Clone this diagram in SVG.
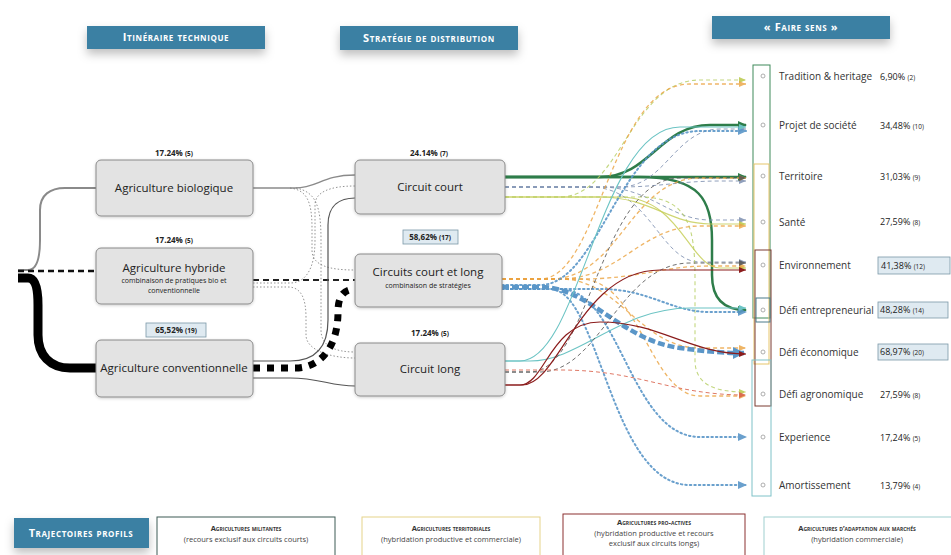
<svg xmlns="http://www.w3.org/2000/svg" width="951" height="555" viewBox="0 0 951 555">
<style>
.hdr{fill:#3b80a3}
.hdrt{fill:#fff;font-family:"Open Sans",sans-serif;font-size:11px;font-weight:bold;font-variant:small-caps;letter-spacing:0.6px;text-anchor:middle}
.node{fill:#e3e3e3;stroke:#8a8a8a;stroke-width:1}
.nt{font-family:"Open Sans",sans-serif;font-size:11.5px;fill:#222;text-anchor:middle}
.ns{font-family:"Open Sans",sans-serif;font-size:7px;fill:#222;text-anchor:middle}
.pct{font-family:"Open Sans",sans-serif;font-size:8px;font-weight:bold;fill:#222;text-anchor:middle}
.pbox{fill:#dfeaf1;stroke:#7b98a8;stroke-width:0.8}
.lab{font-family:"Open Sans",sans-serif;font-size:10px;fill:#333}
.val{font-family:"Open Sans",sans-serif;font-size:9px;fill:#222}
.sm{font-size:6.5px}
.ring{fill:none;stroke:#999;stroke-width:0.8}
.lgt{font-family:"Open Sans",sans-serif;font-size:7.5px;font-weight:bold;font-variant:small-caps;fill:#333;text-anchor:middle}
.lgs{font-family:"Open Sans",sans-serif;font-size:7.5px;fill:#444;text-anchor:middle}
.f{fill:none}
.green{stroke:#2e7d4a;stroke-width:2.5}
.gdash{stroke:#7d8fb0;stroke-width:1;stroke-dasharray:4 3;opacity:.85}
.yg{stroke:#c7cf5a;stroke-width:1.2;opacity:.85}
.ygd{stroke:#b9d06a;stroke-width:1.1;stroke-dasharray:4 3;opacity:.85}
.orng{stroke:#eba340;stroke-width:1.3;stroke-dasharray:4 3;opacity:.8}
.blueT{stroke:#5a96c8;stroke-width:4.5;stroke-dasharray:7 3}
.blueD{stroke:#5a96c8;stroke-width:2;stroke-dasharray:1.5 3;stroke-linecap:round;opacity:.9}
.teal{stroke:#6cc4c4;stroke-width:1.1}
.dkd{stroke:#555;stroke-width:1;stroke-dasharray:4 3;opacity:.85}
.dred{stroke:#8b1c1c;stroke-width:1.2}
.rdd{stroke:#d9604a;stroke-width:1;stroke-dasharray:4 3;opacity:.85}
.dot{stroke:#777;stroke-width:0.8;stroke-dasharray:1.5 2}
</style>
<defs>
<filter id="sh" x="-20%" y="-50%" width="140%" height="250%"><feDropShadow dx="0" dy="5" stdDeviation="5" flood-color="#000" flood-opacity="0.25"/></filter>
<filter id="ns" x="-10%" y="-10%" width="120%" height="130%"><feDropShadow dx="0" dy="1" stdDeviation="1.5" flood-color="#000" flood-opacity="0.2"/></filter>
<marker id="m-green" markerUnits="userSpaceOnUse" markerWidth="10" markerHeight="10" refX="8" refY="5" orient="auto"><path d="M0,1 L9,5 L0,9 z" fill="#2e7d4a"/></marker>
<marker id="m-gd" markerUnits="userSpaceOnUse" markerWidth="8" markerHeight="8" refX="7" refY="4" orient="auto"><path d="M0,1 L7,4 L0,7 z" fill="#7d8fb0"/></marker>
<marker id="m-yg" markerUnits="userSpaceOnUse" markerWidth="8" markerHeight="8" refX="7" refY="4" orient="auto"><path d="M0,1 L7,4 L0,7 z" fill="#b9c84a"/></marker>
<marker id="m-or" markerUnits="userSpaceOnUse" markerWidth="8" markerHeight="8" refX="7" refY="4" orient="auto"><path d="M0,1 L7,4 L0,7 z" fill="#eba340"/></marker>
<marker id="m-bl" markerUnits="userSpaceOnUse" markerWidth="10" markerHeight="10" refX="8" refY="5" orient="auto"><path d="M0,1 L9,5 L0,9 z" fill="#5a96c8"/></marker>
<marker id="m-blL" markerUnits="userSpaceOnUse" markerWidth="14" markerHeight="14" refX="11" refY="7" orient="auto"><path d="M0,1 L12,7 L0,13 z" fill="#5a96c8"/></marker>
<marker id="m-te" markerUnits="userSpaceOnUse" markerWidth="8" markerHeight="8" refX="7" refY="4" orient="auto"><path d="M0,1 L7,4 L0,7 z" fill="#6cc4c4"/></marker>
<marker id="m-dk" markerUnits="userSpaceOnUse" markerWidth="8" markerHeight="8" refX="7" refY="4" orient="auto"><path d="M0,1 L7,4 L0,7 z" fill="#555"/></marker>
<marker id="m-dr" markerUnits="userSpaceOnUse" markerWidth="8" markerHeight="8" refX="7" refY="4" orient="auto"><path d="M0,1 L7,4 L0,7 z" fill="#8b1c1c"/></marker>
<marker id="m-rd" markerUnits="userSpaceOnUse" markerWidth="8" markerHeight="8" refX="7" refY="4" orient="auto"><path d="M0,1 L7,4 L0,7 z" fill="#d9604a"/></marker>
</defs>
<rect width="951" height="555" fill="#fff"/>

<g id="headers">
<rect class="hdr" x="87" y="26" width="178" height="23" filter="url(#sh)"/>
<text class="hdrt" x="176" y="41">Itinéraire technique</text>
<rect class="hdr" x="340" y="26" width="178" height="24" filter="url(#sh)"/>
<text class="hdrt" x="429" y="42">Stratégie de distribution</text>
<rect class="hdr" x="712" y="16" width="178" height="23" filter="url(#sh)"/>
<text class="hdrt" x="801" y="31">« Faire sens »</text>
</g>

<g id="connectors">
<path class="f" d="M18 270 H28 C38 270,40 255,40 240 V210 C40 195,50 188,65 188 H96" stroke="#8a8a8a" stroke-width="2"/>
<path class="f" d="M18 271 H96" stroke="#111" stroke-width="2.5" stroke-dasharray="6 4"/>
<path class="f" d="M18 278 H28 C36 278,38 290,38 305 V335 C38 355,50 368,70 368 H96" stroke="#000" stroke-width="9"/>
<path class="f" d="M253 188 H295 C318 188,322 175,355 175" stroke="#8a8a8a" stroke-width="1.5"/>
<path class="f dot" d="M290 188 C306 190,312 200,312 228 V250 C312 266,330 270,355 270"/>
<path class="f dot" d="M296 188 C316 192,321 206,321 240 V330 C321 346,335 352,355 352"/>
<path class="f dot" d="M253 283 H290 C305 283,315 270,315 240 V205 C315 192,330 186,355 186"/>
<path class="f dot" d="M253 287 H288 C302 287,306 300,306 318 V335 C306 350,330 358,355 358"/>
<path class="f" d="M253 280 H355" stroke="#222" stroke-width="1.8" stroke-dasharray="6 4"/>
<path class="f" d="M253 361 H290 C318 361,328 345,328 320 V225 C328 205,340 198,355 198" stroke="#555" stroke-width="1.2"/>
<path class="f" d="M253 378 H290 C320 378,330 386,355 386" stroke="#555" stroke-width="1.2"/>
<path class="f" d="M253 368 H295 C322 368,338 345,338 312 C338 294,345 289,357 289" stroke="#000" stroke-width="7" stroke-dasharray="7 7"/>
<path class="f green" d="M505 177 H600 C650 177,660 125,710 125 H746" marker-end="url(#m-green)"/>
<path class="f green" d="M505 177 H746" marker-end="url(#m-green)"/>
<path class="f green" d="M505 177 H640 C700 177,712 200,712 240 V275 C712 300,725 310,746 310" marker-end="url(#m-green)"/>
<path class="f gdash" d="M505 187 H620 C665 187,675 129,720 129 H746" marker-end="url(#m-gd)"/>
<path class="f gdash" d="M505 187 H620 C660 187,680 181,720 181 H746" marker-end="url(#m-gd)"/>
<path class="f gdash" d="M505 187 H600 C650 187,670 220,710 220 H746" marker-end="url(#m-gd)"/>
<path class="f gdash" d="M505 187 H590 C650 187,660 262,700 262 H746" marker-end="url(#m-gd)"/>
<path class="f ygd" d="M505 197 H560 C620 197,630 80,700 80 H746" marker-end="url(#m-yg)"/>
<path class="f yg" d="M505 197 H600 C650 197,670 224,710 224 H746" marker-end="url(#m-yg)"/>
<path class="f yg" d="M505 197 H620 C680 197,690 268,720 268 H746" marker-end="url(#m-yg)"/>
<path class="f ygd" d="M505 197 H640 C690 197,695 230,695 280 V360 C695 385,715 392,746 392" marker-end="url(#m-yg)"/>
<path class="f orng" d="M502 279 H540 C600 279,610 84,690 84 H746" marker-end="url(#m-or)"/>
<path class="f orng" d="M502 279 H550 C620 279,630 178,700 178 H746" marker-end="url(#m-or)"/>
<path class="f orng" d="M502 279 H560 C620 279,640 226,700 226 H746" marker-end="url(#m-or)"/>
<path class="f orng" d="M502 279 H580 C640 279,660 266,710 266 H746" marker-end="url(#m-or)"/>
<path class="f orng" d="M502 279 H560 C620 279,640 348,700 348 H746" marker-end="url(#m-or)"/>
<path class="f orng" d="M502 279 H580 C640 279,650 396,700 396 H746" marker-end="url(#m-or)"/>
<path class="f blueD" d="M502 285 H540 C600 285,620 131,700 131 H746" marker-end="url(#m-bl)"/>
<path class="f blueD" d="M502 289 H600 C650 289,670 312,710 312 H746" marker-end="url(#m-bl)"/>
<path class="f blueD" d="M502 289 H560 C620 289,630 437,700 437 H746" marker-end="url(#m-bl)"/>
<path class="f blueD" d="M502 289 H550 C600 289,610 485,690 485 H746" marker-end="url(#m-bl)"/>
<path class="f blueT" d="M502 287 H540 C590 287,620 340,680 348 C710 352,725 353,744 353" marker-end="url(#m-blL)"/>
<path class="f teal" d="M505 361 H520 C580 361,600 127,680 127 H746" marker-end="url(#m-te)"/>
<path class="f teal" d="M505 361 H530 C580 361,620 308,690 308 H746" marker-end="url(#m-te)"/>
<path class="f dkd" d="M505 372 H530 C590 372,600 178,680 178 H746" marker-end="url(#m-dk)"/>
<path class="f dkd" d="M505 372 H540 C600 372,620 263,690 263 H746" marker-end="url(#m-dk)"/>
<path class="f dred" d="M505 385 H520 C545 385,550 322,600 322 C660 322,690 354,746 354" marker-end="url(#m-dr)"/>
<path class="f dred" d="M505 385 H522 C560 385,580 270,660 270 H746" marker-end="url(#m-dr)"/>
<path class="f rdd" d="M505 370 H560 C640 370,670 395,746 395" marker-end="url(#m-rd)"/>
</g>

<g id="n-bio">
<text class="pct" x="174" y="156">17.24% <tspan class="sm">(5)</tspan></text>
<rect class="node" x="96" y="160" width="157" height="56" rx="5" filter="url(#ns)"/>
<text class="nt" x="174" y="192">Agriculture biologique</text>
</g>
<g id="n-hyb">
<text class="pct" x="174" y="243">17.24% <tspan class="sm">(5)</tspan></text>
<rect class="node" x="96" y="248" width="157" height="56" rx="5" filter="url(#ns)"/>
<text class="nt" x="174" y="272">Agriculture hybride</text>
<text class="ns" x="174" y="283">combinaison de pratiques bio et</text>
<text class="ns" x="174" y="293">conventionnelle</text>
</g>
<g id="n-conv">
<rect class="pbox" x="146" y="323" width="60" height="14"/>
<text class="pct" x="176" y="333">65,52% <tspan class="sm">(19)</tspan></text>
<rect class="node" x="96" y="340" width="157" height="57" rx="5" filter="url(#ns)"/>
<text class="nt" x="174" y="372">Agriculture conventionnelle</text>
</g>
<g id="n-cc">
<text class="pct" x="429" y="156">24.14% <tspan class="sm">(7)</tspan></text>
<rect class="node" x="355" y="160" width="150" height="54" rx="5" filter="url(#ns)"/>
<text class="nt" x="430" y="191">Circuit court</text>
</g>
<g id="n-ccl">
<rect class="pbox" x="403" y="230" width="55" height="14"/>
<text class="pct" x="430" y="240">58,62% <tspan class="sm">(17)</tspan></text>
<rect class="node" x="355" y="254" width="147" height="53" rx="5" filter="url(#ns)"/>
<text class="nt" x="428" y="276">Circuits court et long</text>
<text class="ns" x="428" y="288">combinaison de stratégies</text>
</g>
<g id="n-cl">
<text class="pct" x="430" y="336">17.24% <tspan class="sm">(5)</tspan></text>
<rect class="node" x="355" y="343" width="150" height="53" rx="5" filter="url(#ns)"/>
<text class="nt" x="430" y="373">Circuit long</text>
</g>

<g id="bar">
<rect x="753" y="65" width="17" height="253" fill="none" stroke="#3f8a5a" stroke-width="1"/>
<rect x="754" y="164" width="15" height="200" fill="none" stroke="#e6c56a" stroke-width="1"/>
<rect x="755" y="250" width="16" height="156" fill="none" stroke="#7a3a30" stroke-width="1"/>
<rect x="756" y="298" width="14" height="24" fill="none" stroke="#4a7a8a" stroke-width="1"/>
<rect x="752" y="360" width="19" height="136" fill="none" stroke="#7fc2c8" stroke-width="1"/>
</g>

<g id="t-trad"><circle class="ring" cx="763" cy="76" r="2"/><text class="lab" x="779" y="80">Tradition &amp; heritage</text><text class="val" x="880" y="80">6,90% <tspan class="sm">(2)</tspan></text></g>
<g id="t-proj"><circle class="ring" cx="763" cy="125" r="2"/><text class="lab" x="779" y="129">Projet de société</text><text class="val" x="880" y="129">34,48% <tspan class="sm">(10)</tspan></text></g>
<g id="t-terr"><circle class="ring" cx="763" cy="176" r="2"/><text class="lab" x="779" y="180">Territoire</text><text class="val" x="880" y="180">31,03% <tspan class="sm">(9)</tspan></text></g>
<g id="t-sante"><circle class="ring" cx="763" cy="222" r="2"/><text class="lab" x="779" y="226">Santé</text><text class="val" x="880" y="225">27,59% <tspan class="sm">(8)</tspan></text></g>
<g id="t-env"><circle class="ring" cx="763" cy="265" r="2"/><text class="lab" x="779" y="269">Environnement</text><rect class="pbox" x="878" y="257" width="72" height="17"/><text class="val" x="881" y="269">41,38% <tspan class="sm">(12)</tspan></text></g>
<g id="t-entr"><circle class="ring" cx="763" cy="310" r="2"/><text class="lab" x="779" y="314">Défi entrepreneurial</text><rect class="pbox" x="878" y="302" width="70" height="16"/><text class="val" x="880" y="313">48,28% <tspan class="sm">(14)</tspan></text></g>
<g id="t-eco"><circle class="ring" cx="763" cy="352" r="2"/><text class="lab" x="779" y="356">Défi économique</text><rect class="pbox" x="878" y="344" width="70" height="16"/><text class="val" x="880" y="355">68,97% <tspan class="sm">(20)</tspan></text></g>
<g id="t-agro"><circle class="ring" cx="763" cy="394" r="2"/><text class="lab" x="779" y="398">Défi agronomique</text><text class="val" x="880" y="398">27,59% <tspan class="sm">(8)</tspan></text></g>
<g id="t-exp"><circle class="ring" cx="763" cy="437" r="2"/><text class="lab" x="779" y="441">Experience</text><text class="val" x="880" y="441">17,24% <tspan class="sm">(5)</tspan></text></g>
<g id="t-amort"><circle class="ring" cx="763" cy="485" r="2"/><text class="lab" x="779" y="489">Amortissement</text><text class="val" x="880" y="489">13,79% <tspan class="sm">(4)</tspan></text></g>

<g id="legend">
<rect class="hdr" x="14" y="518" width="135" height="30" filter="url(#sh)"/>
<text class="hdrt" x="81" y="537">Trajectoires profils</text>
<rect x="157" y="517" width="178" height="45" fill="#fff" stroke="#3d5a55" stroke-width="1"/>
<text class="lgt" x="246" y="531">Agricultures militantes</text>
<text class="lgs" x="246" y="542">(recours exclusif aux circuits courts)</text>
<rect x="362" y="517" width="178" height="45" fill="#fff" stroke="#e6d38a" stroke-width="1"/>
<text class="lgt" x="451" y="531">Agricultures territoriales</text>
<text class="lgs" x="451" y="542">(hybridation productive et commerciale)</text>
<rect x="563" y="514" width="182" height="48" fill="#fff" stroke="#8b3030" stroke-width="1"/>
<text class="lgt" x="654" y="525">Agricultures pro-actives</text>
<text class="lgs" x="654" y="536">(hybridation productive et recours</text>
<text class="lgs" x="654" y="546">exclusif aux circuits longs)</text>
<rect x="764" y="517" width="200" height="45" fill="#fff" stroke="#9fd0d0" stroke-width="1"/>
<text class="lgt" x="857" y="531">Agricultures d’adaptation aux marchés</text>
<text class="lgs" x="857" y="542">(hybridation commerciale)</text>
</g>
</svg>
